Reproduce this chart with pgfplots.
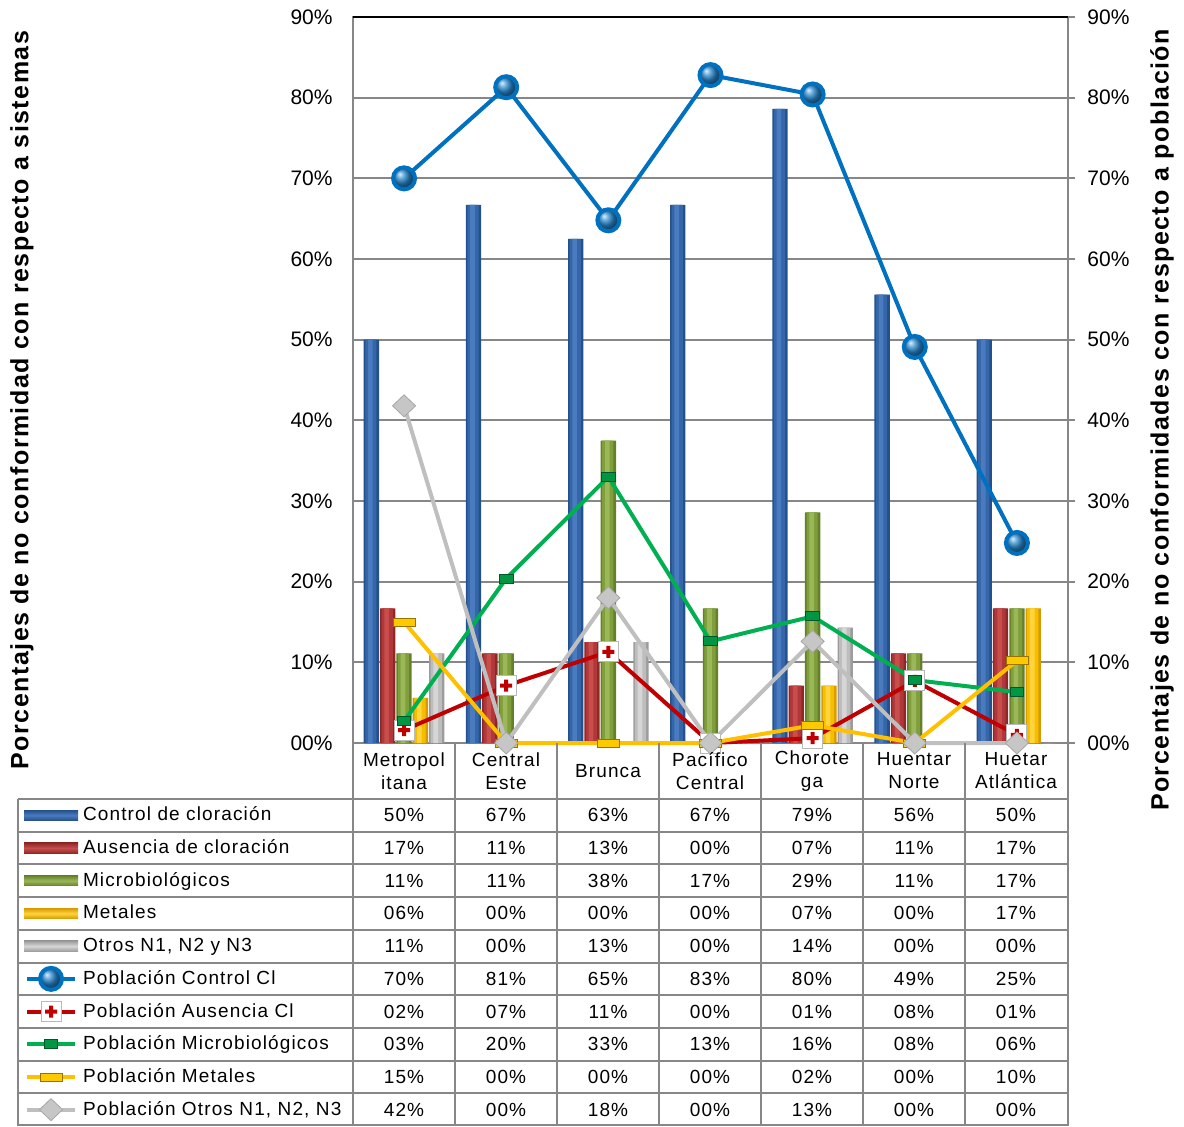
\documentclass[border=0pt]{standalone}
\usepackage{fontspec}
\setmainfont{Liberation Sans}
\newfontfamily\lsfont[LetterSpace=6]{Liberation Sans}
\usepackage{pgfplots}
\usepackage{pgfplotstable}
\pgfplotsset{compat=1.18}

% bar colours: edge / body / highlight
\definecolor{ctrlD}{HTML}{24508C}
\definecolor{ctrlM}{HTML}{3566A9}
\definecolor{ctrlL}{HTML}{4A7BBE}
\definecolor{ausD}{HTML}{8E2826}
\definecolor{ausM}{HTML}{B0383A}
\definecolor{ausL}{HTML}{C84E4C}
\definecolor{micD}{HTML}{65802A}
\definecolor{micM}{HTML}{809F3C}
\definecolor{micL}{HTML}{9AB858}
\definecolor{metD}{HTML}{D89A00}
\definecolor{metM}{HTML}{F7BE00}
\definecolor{metL}{HTML}{FFD43E}
\definecolor{otrD}{HTML}{9C9C9C}
\definecolor{otrM}{HTML}{BDBDBD}
\definecolor{otrL}{HTML}{D6D6D6}
% line colours
\definecolor{lBlue}{HTML}{0070C0}
\definecolor{lRed}{HTML}{C00000}
\definecolor{lGreen}{HTML}{00B050}
\definecolor{lYel}{HTML}{FFC000}
\definecolor{lGray}{HTML}{BFBFBF}
\definecolor{gridc}{HTML}{878787}

\newcommand\tabfont{\lsfont\fontsize{9.5}{11.5}\selectfont}

% white square with a red cross
\pgfdeclareplotmark{plussq}{%
  \pgfpathrectangle{\pgfpoint{-\pgfplotmarksize}{-\pgfplotmarksize}}{\pgfpoint{2\pgfplotmarksize}{2\pgfplotmarksize}}%
  \pgfsetfillcolor{white}\pgfsetstrokecolor{gray!55}\pgfsetlinewidth{0.5pt}%
  \pgfusepath{fill,stroke}%
  \pgfsetfillcolor{lRed}%
  \pgfpathrectangle{\pgfpoint{-0.6\pgfplotmarksize}{-0.2\pgfplotmarksize}}{\pgfpoint{1.2\pgfplotmarksize}{0.4\pgfplotmarksize}}%
  \pgfpathrectangle{\pgfpoint{-0.2\pgfplotmarksize}{-0.6\pgfplotmarksize}}{\pgfpoint{0.4\pgfplotmarksize}{1.2\pgfplotmarksize}}%
  \pgfusepath{fill}%
}

\pgfplotsset{
  % cylinder-like bar: dark body, lighter inner strips drawn on top
  cyl/.style n args={3}{ybar, bar width=0.15, bar shift=#3, draw=none, fill=#1,
    legend image code/.code={\shade[top color=#1, bottom color=#1, middle color=#2]
      (0pt,-2.6pt) rectangle (27pt,2.6pt);}},
  hl/.style n args={3}{ybar, bar width=#3, bar shift=#2, draw=none, fill=#1, forget plot},
  ln/.style={line width=2pt,
    legend image code/.code={\draw[##1, mark repeat=2, mark phase=2]
      plot coordinates {(1.5pt,0pt) (13.5pt,0pt) (25.5pt,0pt)};}},
}

% values in percent, one row per region
\pgfplotstableread{
x ctrl aus mic met otr pctrl paus pmic pmet potr
0 50.0 16.7 11.1 5.6 11.1 70.0 1.6 2.7 15.0 41.8
1 66.7 11.1 11.1 0 0 81.3 7.1 20.4 0 0
2 62.5 12.5 37.5 0 12.5 64.8 11.3 33.0 0 18.0
3 66.7 0 16.7 0 0 82.8 0 12.6 0 0
4 78.6 7.1 28.6 7.1 14.3 80.4 0.6 15.7 2.2 12.6
5 55.6 11.1 11.1 0 0 49.1 7.7 7.8 0 0
6 50.0 16.7 16.7 16.7 0 24.8 1.0 6.3 10.2 0
}\datos

\begin{document}
\begin{tikzpicture}
% right-hand scale
\begin{axis}[
  scale only axis, width=357.5pt, height=363pt,
  xmin=-0.5, xmax=6.5, ymin=0, ymax=90,
  axis x line=none, axis y line*=right,
  ytick={0,10,...,90},
  yticklabels={00\%,10\%,20\%,30\%,40\%,50\%,60\%,70\%,80\%,90\%},
  tick align=outside, major tick length=3.5pt,
  ytick style={draw=gridc, line width=1pt},
  y axis line style={draw=gridc, line width=1pt, -},
  yticklabel style={font=\fontsize{10.5}{12}\selectfont, inner sep=0pt, xshift=6pt},
]
\end{axis}
% main chart
\begin{axis}[
  name=main,
  scale only axis, width=357.5pt, height=363pt,
  xmin=-0.5, xmax=6.5, ymin=0, ymax=90,
  clip=false,
  xtick=\empty,
  ytick={0,10,...,90},
  yticklabels={00\%,10\%,20\%,30\%,40\%,50\%,60\%,70\%,80\%,90\%},
  ytick style={draw=none},
  ymajorgrids, grid style={draw=gridc, line width=1pt},
  axis line style={draw=gridc, line width=1pt},
  yticklabel style={font=\fontsize{10.5}{12}\selectfont, inner sep=0pt, xshift=-10pt},
  legend cell align=left,
  legend style={at={(-0.4601,-0.07713)}, anchor=north west, draw=none, fill=none,
    inner sep=0pt, outer sep=0pt, row sep=0pt, column sep=2.5pt,
    font=\tabfont,
    nodes={inner sep=0pt, minimum height=16.35pt, anchor=west}},
]
\addplot[cyl={ctrlD}{ctrlL}{-0.32}] table[x=x, y=ctrl]{\datos};
\addlegendentry{Control de cloración}
\addplot[hl={ctrlM}{-0.325}{0.11}] table[x=x, y=ctrl]{\datos};
\addplot[hl={ctrlL}{-0.33}{0.045}] table[x=x, y=ctrl]{\datos};

\addplot[cyl={ausD}{ausL}{-0.16}] table[x=x, y=aus]{\datos};
\addlegendentry{Ausencia de cloración}
\addplot[hl={ausM}{-0.165}{0.11}] table[x=x, y=aus]{\datos};
\addplot[hl={ausL}{-0.17}{0.045}] table[x=x, y=aus]{\datos};

\addplot[cyl={micD}{micL}{0}] table[x=x, y=mic]{\datos};
\addlegendentry{Microbiológicos}
\addplot[hl={micM}{-0.005}{0.11}] table[x=x, y=mic]{\datos};
\addplot[hl={micL}{-0.01}{0.045}] table[x=x, y=mic]{\datos};

\addplot[cyl={metD}{metL}{0.16}] table[x=x, y=met]{\datos};
\addlegendentry{Metales}
\addplot[hl={metM}{0.155}{0.11}] table[x=x, y=met]{\datos};
\addplot[hl={metL}{0.15}{0.045}] table[x=x, y=met]{\datos};

\addplot[cyl={otrD}{otrL}{0.32}] table[x=x, y=otr]{\datos};
\addlegendentry{Otros N1, N2 y N3}
\addplot[hl={otrM}{0.315}{0.11}] table[x=x, y=otr]{\datos};
\addplot[hl={otrL}{0.31}{0.045}] table[x=x, y=otr]{\datos};

\addplot[ln, color=lBlue, mark=ball, mark size=5.5pt,
  mark options={ball color=lBlue!85!white, draw=none}] table[x=x, y=pctrl]{\datos};
\addlegendentry{Población Control Cl}
\addplot[ln, color=lRed, mark=plussq, mark size=5pt] table[x=x, y=paus]{\datos};
\addlegendentry{Población Ausencia Cl}
\addplot[ln, color=lGreen, mark=square*, mark size=2.25pt,
  mark options={xscale=1.5, fill=lGreen!85!black, draw=lGreen!50!black, line width=0.4pt}]
  table[x=x, y=pmic]{\datos};
\addlegendentry{Población Microbiológicos}
\addplot[ln, color=lYel, mark=square*, mark size=2pt,
  mark options={xscale=2.75, fill=lYel!85!yellow, draw=lYel!60!black, line width=0.4pt}]
  table[x=x, y=pmet]{\datos};
\addlegendentry{Población Metales}
\addplot[ln, color=lGray, mark=diamond*, mark size=5.5pt,
  mark options={xscale=1.4, fill=gray!45, draw=gray!70, line width=0.4pt}]
  table[x=x, y=potr]{\datos};
\addlegendentry{Población Otros N1, N2, N3}
\end{axis}

% data table, titles and frame, in a 1184 x 1126 grid
\begin{scope}[shift={(main.south west)}, xshift=-176.5pt, yshift=371.5pt, x=0.5pt, y=-0.5pt]
  \draw[black, line width=1.2pt] (353,17) -- (1068,17);
  % grid of the table
  \foreach \cx in {353,455,557,659,761,863,965,1068}
    \draw[gridc, line width=1pt] (\cx,743) -- (\cx,1126);
  \draw[gridc, line width=1pt] (18,799) -- (18,1126);
  \foreach \r in {0,...,9}
    \draw[gridc, line width=1pt] (18,{799+32.7*\r}) -- (1068,{799+32.7*\r});
  \draw[gridc, line width=1pt] (18,1125) -- (1068,1125);
  % region names
  \foreach \name [count=\k from 0] in {Metropol\\itana, Central\\Este, Brunca,
      Pacífico\\Central, Chorote\\ga, Huentar\\Norte, Huetar\\Atlántica}
    \node[font=\tabfont, align=center, inner sep=0pt] at ({404+102*\k},771) {\name};
  % values, rounded to whole percents
  \foreach \col [count=\r from 0] in {ctrl,aus,mic,met,otr,pctrl,paus,pmic,pmet,potr}{
    \foreach \k in {0,...,6}{
      \pgfplotstablegetelem{\k}{\col}\of\datos
      \pgfmathtruncatemacro\v{round(\pgfplotsretval)}
      \ifnum\v<10\relax\edef\v{0\v}\fi
      \node[font=\tabfont, inner sep=0pt] at ({404+102*\k},{799+32.7*(\r+0.5)}) {\v\%};
    }
  }
  % axis titles
  \node[rotate=90, font=\lsfont\bfseries\fontsize{12.5}{15}\selectfont] at (22,400)
    {Porcentajes de no conformidad con respecto a sistemas};
  \node[rotate=90, font=\lsfont\bfseries\fontsize{12.5}{15}\selectfont] at (1162,420)
    {Porcentajes de no conformidades con respecto a población};
  \pgfresetboundingbox
  \path[use as bounding box] (0,0) rectangle (1184,1126);
\end{scope}
\end{tikzpicture}
\end{document}
